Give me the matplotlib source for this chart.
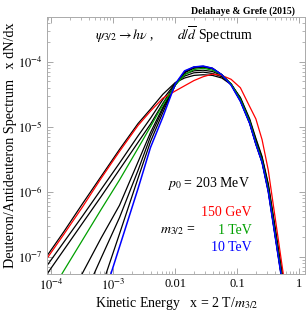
import numpy as np
import matplotlib
matplotlib.use('Agg')
import matplotlib.pyplot as plt
from matplotlib.ticker import FixedLocator, FixedFormatter, LogLocator, NullFormatter

plt.rcParams['font.family'] = ['Liberation Serif', 'DejaVu Serif']
plt.rcParams['mathtext.fontset'] = 'stix'

# log10(x) grid the curves were read on
log_x = [-4.1, -3.8, -3.5, -3.2, -2.9, -2.6, -2.4, -2.2, -2.0, -1.85, -1.7, -1.55,
         -1.4, -1.25, -1.1, -0.95, -0.8, -0.7, -0.6, -0.5, -0.4, -0.3, -0.2]

# log10(x dN/dx)
red_150gev = [-7.07, -6.66, -6.24, -5.80, -5.38, -4.98, -4.76, -4.56, -4.45, -4.37, -4.29, -4.23,
              -4.19, -4.21, -4.27, -4.40, -4.69, -4.88, -5.20, -5.67, -6.33, -6.99, -7.65]
green_1tev = [-7.70, -7.22, -6.75, -6.28, -5.82, -5.33, -5.00, -4.66, -4.36, -4.20, -4.12, -4.10,
              -4.13, -4.20, -4.34, -4.58, -4.92, -5.24, -5.52, -5.96, -6.58, -7.20, -7.80]
blue_10tev = [-10.4, -9.5, -8.6, -7.75, -6.85, -5.95, -5.32, -4.85, -4.34, -4.14, -4.08, -4.066,
              -4.10, -4.20, -4.36, -4.61, -4.95, -5.27, -5.55, -6.00, -6.62, -7.24, -7.85]
black_1 = [-7.03, -6.62, -6.19, -5.77, -5.35, -4.95, -4.73, -4.50, -4.32, -4.25, -4.21, -4.20,
           -4.21, -4.25, -4.35, -4.55, -4.88, -5.18, -5.46, -5.88, -6.48, -7.10, -7.70]
black_2 = [-7.18, -6.78, -6.38, -5.97, -5.56, -5.14, -4.87, -4.58, -4.33, -4.22, -4.17, -4.16,
           -4.18, -4.23, -4.34, -4.56, -4.90, -5.20, -5.48, -5.90, -6.52, -7.14, -7.75]
black_3 = [-7.31, -6.90, -6.49, -6.08, -5.66, -5.24, -4.96, -4.64, -4.34, -4.19, -4.14, -4.13,
           -4.15, -4.21, -4.34, -4.57, -4.91, -5.22, -5.50, -5.93, -6.55, -7.17, -7.78]
black_4 = [-8.30, -7.78, -7.26, -6.72, -6.21, -5.54, -5.09, -4.70, -4.36, -4.17, -4.10, -4.085,
           -4.11, -4.20, -4.35, -4.60, -4.94, -5.26, -5.54, -5.98, -6.60, -7.22, -7.83]
black_5 = [-8.95, -8.30, -7.67, -7.03, -6.40, -5.67, -5.15, -4.73, -4.36, -4.16, -4.09, -4.075,
           -4.105, -4.20, -4.35, -4.60, -4.94, -5.26, -5.54, -5.98, -6.60, -7.22, -7.83]
black_6 = [-10.0, -9.2, -8.35, -7.50, -6.65, -5.79, -5.23, -4.78, -4.35, -4.15, -4.08, -4.07,
           -4.10, -4.20, -4.35, -4.60, -4.95, -5.27, -5.55, -6.00, -6.62, -7.24, -7.85]

x = 10 ** np.array(log_x)

fig = plt.figure(figsize=(3.07, 3.14), dpi=100)
ax = fig.add_axes([0.153, 0.127, 0.840, 0.819])

for b in [black_1, black_2, black_3, black_4, black_5, black_6]:
    ax.plot(x, 10 ** np.array(b), color='black', lw=0.9)
ax.plot(x, 10 ** np.array(red_150gev), color='#ff0000', lw=0.9)
ax.plot(x, 10 ** np.array(green_1tev), color='#00a000', lw=0.9)
ax.plot(x, 10 ** np.array(blue_10tev), color='#0000ff', lw=1.1)

ax.set_xscale('log')
ax.set_yscale('log')
ax.set_xlim(10 ** -4.07, 10 ** 0.09)
ax.set_ylim(10 ** -7.27, 10 ** -3.31)

ax.xaxis.set_major_locator(FixedLocator([1e-4, 1e-3, 1e-2, 1e-1, 1]))
ax.xaxis.set_major_formatter(FixedFormatter([r'$10^{-4}$', r'$10^{-3}$', '0.01', '0.1', '1']))
ax.yaxis.set_major_locator(FixedLocator([1e-7, 1e-6, 1e-5, 1e-4]))
ax.yaxis.set_major_formatter(FixedFormatter([r'$10^{-7}$', r'$10^{-6}$', r'$10^{-5}$', r'$10^{-4}$']))
ax.xaxis.set_minor_locator(LogLocator(base=10, subs=np.arange(2, 10)))
ax.yaxis.set_minor_locator(LogLocator(base=10, subs=np.arange(2, 10)))
ax.xaxis.set_minor_formatter(NullFormatter())
ax.yaxis.set_minor_formatter(NullFormatter())
ax.tick_params(which='both', direction='in', top=True, right=True, color='#999999',
               labelsize=9, pad=3)
ax.tick_params(which='major', length=4, width=0.6)
ax.tick_params(which='minor', length=2, width=0.5)
for s in ax.spines.values():
    s.set_color('#aaaaaa')
    s.set_linewidth(0.7)

fig.text(0.962, 0.964, 'Delahaye & Grefe (2015)', ha='right', va='center',
         fontsize=7, fontweight='bold')
fig.text(0.31, 0.888, r'$\psi_{3/2} \rightarrow h\nu$ ,', ha='left', va='center', fontsize=10)
fig.text(0.576, 0.888, r'$d/\overline{d}$ Spectrum', ha='left', va='center', fontsize=10)
fig.text(0.815, 0.417, r'$p_0$ = 203 MeV', ha='right', va='center', fontsize=10)
fig.text(0.82, 0.322, '150 GeV', ha='right', va='center', fontsize=10, color='#ff0000')
fig.text(0.82, 0.267, '1 TeV', ha='right', va='center', fontsize=10, color='#00a000')
fig.text(0.82, 0.212, '10 TeV', ha='right', va='center', fontsize=10, color='#0000ff')
fig.text(0.52, 0.267, r'$m_{3/2}$ =', ha='left', va='center', fontsize=10)

fig.text(0.033, 0.537, 'Deuteron/Antideuteron Spectrum   x dN/dx', rotation=90,
         ha='center', va='center', fontsize=10.2)
fig.text(0.577, 0.032, r'Kinetic Energy   x = 2 T/$m_{3/2}$', ha='center', va='center',
         fontsize=10)

fig.savefig('out.png', dpi=100)
